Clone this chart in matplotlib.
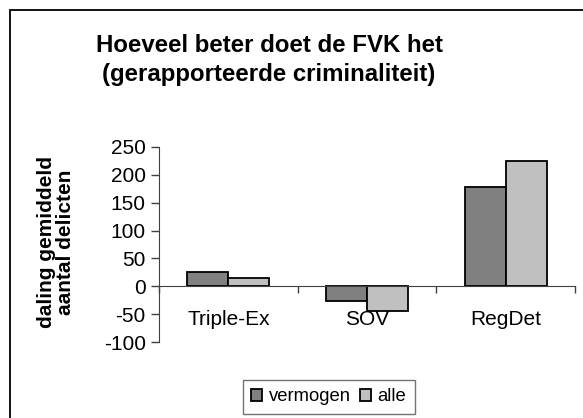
import matplotlib.pyplot as plt
from matplotlib.patches import Rectangle
import numpy as np

plt.rcParams['font.family'] = ['Liberation Sans', 'DejaVu Sans']

# data
categories = ['Triple-Ex', 'SOV', 'RegDet']
vermogen = [26, -26, 178]
alle = [15, -44, 224]
yticks = [-100, -50, 0, 50, 100, 150, 200, 250]

W, H = 583, 418
fig = plt.figure(figsize=(W / 100, H / 100), dpi=100)
ax = fig.add_axes([159 / W, 1 - 342 / H, (575 - 159) / W, (342 - 147) / H])

x = np.arange(len(categories)) + 0.5
w = 0.296
ax.bar(x - w / 2, vermogen, w, color='#808080', edgecolor='black', linewidth=1.3, label='vermogen', zorder=2)
ax.bar(x + w / 2, alle, w, color='#c0c0c0', edgecolor='black', linewidth=1.3, label='alle', zorder=2)

ax.set_xlim(0, 3)
ax.set_ylim(-100, 250)
ax.set_yticks(yticks)
ax.set_yticklabels([str(v) for v in yticks])

# category boundaries as ticks, labels at the centres
ax.set_xticks([0, 1, 2, 3])
ax.set_xticklabels([])
ax.set_xticks(x, minor=True)
ax.set_xticklabels(categories, minor=True)
ax.tick_params(axis='x', which='major', direction='out', length=5, width=1, color='#404040')
ax.tick_params(axis='x', which='minor', length=0, pad=17, labelsize=15)
ax.tick_params(axis='y', direction='out', length=6, width=1, color='#404040', labelsize=15)

for s in ['top', 'right']:
    ax.spines[s].set_visible(False)
ax.spines['bottom'].set_position(('data', 0))
ax.spines['bottom'].set_color('#404040')
ax.spines['left'].set_color('#404040')

fig.text(56 / W, 1 - 242 / H, 'daling gemiddeld\naantal delicten', rotation=90, ha='center', va='center',
         fontsize=15, fontweight='bold', linespacing=1.05)

fig.text(269 / W, 1 - 60 / H, 'Hoeveel beter doet de FVK het\n(gerapporteerde criminaliteit)',
         ha='center', va='center', fontsize=17.3, fontweight='bold', linespacing=1.3)

# outer chart frame (right and bottom edges fall outside the image)
fig.patches.append(Rectangle((10 / W, -0.1), 1.2, 1.1 - 10 / H, transform=fig.transFigure,
                             fill=False, edgecolor='black', linewidth=1.3))

leg = fig.legend(loc='upper left', bbox_to_anchor=(243 / W, 1 - 380 / H), ncol=2, fontsize=13.3,
                 frameon=True, fancybox=False, edgecolor='#505050', handlelength=0.6, handleheight=0.6,
                 handletextpad=0.35, columnspacing=0.5, borderpad=0.45, borderaxespad=0)
leg.get_frame().set_linewidth(1.0)

fig.savefig('out.png', dpi=100)
